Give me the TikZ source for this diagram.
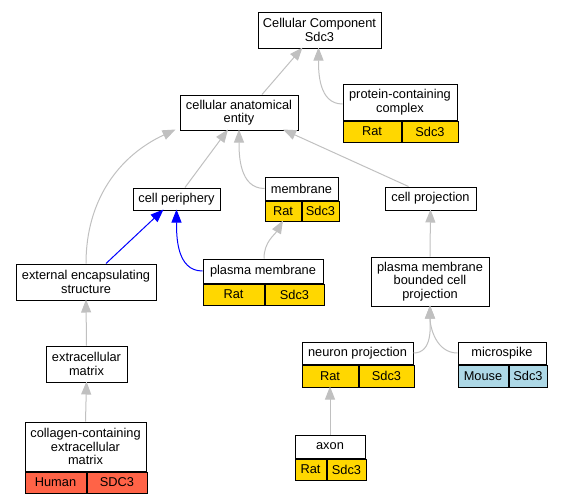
\documentclass[tikz,border=0pt]{standalone}
\usepackage{fontspec}
\setmainfont{Liberation Sans}
\usetikzlibrary{arrows.meta,positioning}
\definecolor{ratgold}{HTML}{FFD700}
\definecolor{humanred}{HTML}{FF6347}
\definecolor{mouseblue}{HTML}{ADD8E6}
\definecolor{edgegray}{HTML}{C0C0C0}
\tikzset{
	term/.style={draw,line width=1pt,fill=white,align=center,inner sep=0pt,font=\fontsize{12.8}{13.5}\selectfont},
	cellbox/.style={draw,line width=1pt,anchor=north west,inner sep=0pt,minimum height=21pt,font=\fontsize{12.8}{13.5}\selectfont},
	isa/.style={draw=edgegray,line width=1pt,-{Triangle[length=13pt,width=10pt]}},
	blueisa/.style={isa,draw=blue}
}
\begin{document}
\begin{tikzpicture}[x=1pt,y=-1pt]
	\useasboundingbox (0,0) rectangle (563,504);
	% terms
	\node[term,minimum width=123pt,minimum height=36pt] (cc) at (319.5,30) {Cellular Component\\Sdc3};
	\node[term,minimum width=114pt,minimum height=36pt] (pcc) at (400,102) {protein-containing\\complex};
	\node[term,minimum width=118pt,minimum height=35pt] (cae) at (239,112.5) {cellular anatomical\\entity};
	\node[term,minimum width=87pt,minimum height=22pt] (cper) at (176.5,199) {cell periphery};
	\node[term,minimum width=73pt,minimum height=23pt] (mem) at (301.5,188.5) {membrane};
	\node[term,minimum width=91pt,minimum height=23pt] (cproj) at (430.5,198.5) {cell projection};
	\node[term,minimum width=140pt,minimum height=36pt] (ees) at (86,282) {external encapsulating\\structure};
	\node[term,minimum width=120pt,minimum height=24pt] (pm) at (263,271) {plasma membrane};
	\node[term,minimum width=118pt,minimum height=49pt] (pmbcp) at (430,281.5) {plasma membrane\\bounded cell\\projection};
	\node[term,minimum width=81pt,minimum height=36pt] (ecm) at (86.5,364) {extracellular\\matrix};
	\node[term,minimum width=121pt,minimum height=49pt] (col) at (85.5,446.5) {collagen-containing\\extracellular\\matrix};
	\node[term,minimum width=111pt,minimum height=22pt] (np) at (357.5,353) {neuron projection};
	\node[term,minimum width=88pt,minimum height=22pt] (ms) at (502,353) {microspike};
	\node[term,minimum width=70pt,minimum height=23pt] (axon) at (330,446.5) {axon};
	% annotations
	\node[cellbox,fill=ratgold,minimum width=58pt] (pccrat) at (pcc.south west) {Rat};
	\node[cellbox,fill=ratgold,minimum width=56pt] (pccgene) at (pccrat.north east) {Sdc3};
	\node[cellbox,fill=ratgold,minimum width=36pt,minimum height=20pt] (memrat) at (mem.south west) {Rat};
	\node[cellbox,fill=ratgold,minimum width=37pt,minimum height=20pt] (memgene) at (memrat.north east) {Sdc3};
	\node[cellbox,fill=ratgold,minimum width=61pt] (pmrat) at (pm.south west) {Rat};
	\node[cellbox,fill=ratgold,minimum width=59pt] (pmgene) at (pmrat.north east) {Sdc3};
	\node[cellbox,fill=humanred,minimum width=61pt] (colhuman) at (col.south west) {Human};
	\node[cellbox,fill=humanred,minimum width=60pt] (colgene) at (colhuman.north east) {SDC3};
	\node[cellbox,fill=ratgold,minimum width=56pt,minimum height=22pt] (nprat) at (np.south west) {Rat};
	\node[cellbox,fill=ratgold,minimum width=55pt,minimum height=22pt] (npgene) at (nprat.north east) {Sdc3};
	\node[cellbox,fill=mouseblue,minimum width=50pt,minimum height=22pt] (msmouse) at (ms.south west) {Mouse};
	\node[cellbox,fill=mouseblue,minimum width=38pt,minimum height=22pt] (msgene) at (msmouse.north east) {Sdc3};
	\node[cellbox,fill=ratgold,minimum width=31pt] (axonrat) at (axon.south west) {Rat};
	\node[cellbox,fill=ratgold,minimum width=39pt] (axongene) at (axonrat.north east) {Sdc3};
	% is_a / part_of links
	\draw[isa] ([xshift=23pt]cae.north) -- ([xshift=-17pt,yshift=1pt]cc.south);
	\draw[isa] ([yshift=-2pt]pcc.west) to[out=180,in=-90] ([xshift=-1pt,yshift=1pt]cc.south);
	\draw[isa] ([xshift=8.5pt]cper.north) -- ([xshift=-11pt,yshift=1pt]cae.south);
	\draw[isa] (mem.west) to[out=180,in=-90] ([yshift=1pt]cae.south);
	\draw[isa] ([xshift=-22pt]cproj.north) -- ([xshift=44pt,yshift=1pt]cae.south);
	\draw[isa] (ees.north) to[out=90,in=205] ([xshift=-4pt,yshift=1pt]cae.south west);
	\draw[blueisa] ([xshift=20pt]ees.north) -- ([xshift=-13pt,yshift=1pt]cper.south);
	\draw[blueisa] (pm.west) to[out=180,in=-90] ([yshift=1pt]cper.south);
	\draw[isa] ([xshift=1pt]pm.north) to[out=90,in=240] ([yshift=1pt]memrat.south);
	\draw[isa] (pmbcp.north) -- ([yshift=1pt]cproj.south);
	\draw[isa] (ecm.north) -- ([yshift=1pt]ees.south);
	\draw[isa] (col.north) -- ([yshift=1pt]ecm.south);
	\draw[isa] (np.east) to[out=0,in=-90] ([yshift=1pt]pmbcp.south);
	\draw[isa] (ms.west) to[out=180,in=-90] ([yshift=1pt]pmbcp.south);
	\draw[isa] (axon.north) -- ([yshift=1pt]nprat.south);
\end{tikzpicture}
\end{document}
